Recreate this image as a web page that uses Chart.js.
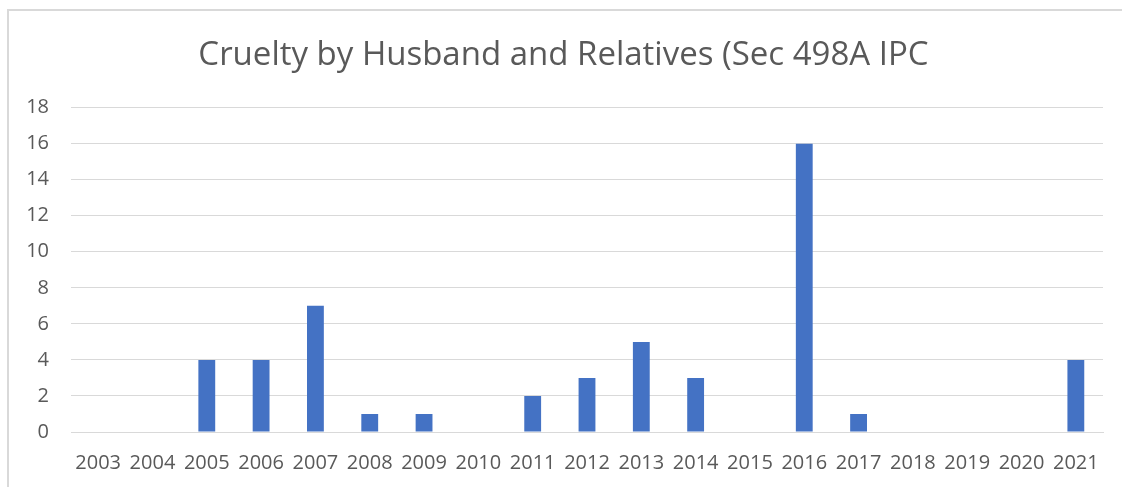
<!DOCTYPE html>
<html>
<head>
<meta charset="utf-8">
<script src="https://cdn.jsdelivr.net/npm/chart.js"></script>
<style>
  body { margin: 0; background: #fff; }
  .chart-box {
    position: absolute;
    left: 7px;
    top: 9px;
    width: 1120px;
    height: 480px;
    border-left: 2px solid #d9d9d9;
    border-top: 2px solid #d9d9d9;
  }
  #cruelty { position: absolute; left: 0; top: 0; }
</style>
</head>
<body>
<div class="chart-box">
  <canvas id="cruelty" width="1113" height="476"></canvas>
</div>
<script>
// cases per year
const years = ['2003', '2004', '2005', '2006', '2007', '2008', '2009', '2010', '2011', '2012',
               '2013', '2014', '2015', '2016', '2017', '2018', '2019', '2020', '2021'];
const cases = [0, 0, 4, 4, 7, 1, 1, 0, 2, 3, 5, 3, 0, 16, 1, 0, 0, 0, 4];
const yTicks = [0, 2, 4, 6, 8, 10, 12, 14, 16, 18];

const textColor = '#595959';
const gridColor = '#d9d9d9';
const font = 'Open Sans';

const ctx = document.getElementById('cruelty');

new Chart(ctx, {
  type: 'bar',
  data: {
    labels: years,
    datasets: [{
      label: 'Cases',
      data: cases,
      backgroundColor: '#4472c4',
      barPercentage: 0.31,
      categoryPercentage: 1
    }]
  },
  options: {
    responsive: false,
    animation: false,
    // left padding nudges the title a little right
    layout: { padding: { left: 15, right: 19, top: 0, bottom: 0 } },
    plugins: {
      legend: { display: false },
      tooltip: { enabled: false },
      title: {
        display: true,
        text: 'Cruelty by Husband and Relatives (Sec 498A IPC',
        color: textColor,
        font: { family: font, size: 33, weight: 'normal' },
        padding: { top: 25, bottom: 32 }
      }
    },
    scales: {
      x: {
        grid: { display: false },
        border: { display: true, color: gridColor, width: 1 },
        ticks: {
          color: textColor,
          font: { family: font, size: 20 },
          padding: 11,
          maxRotation: 0,
          autoSkip: false
        },
        afterFit: function(scale) { scale.height = 55; }
      },
      y: {
        min: 0,
        max: 18,
        afterBuildTicks: function(scale) {
          scale.ticks = yTicks.map(function(v) { return { value: v }; });
        },
        grid: { color: gridColor, drawTicks: false },
        border: { display: false },
        ticks: {
          color: textColor,
          font: { family: font, size: 20 },
          padding: 22
        },
        afterFit: function(scale) { scale.width = 47; }
      }
    }
  }
});
</script>
</body>
</html>
